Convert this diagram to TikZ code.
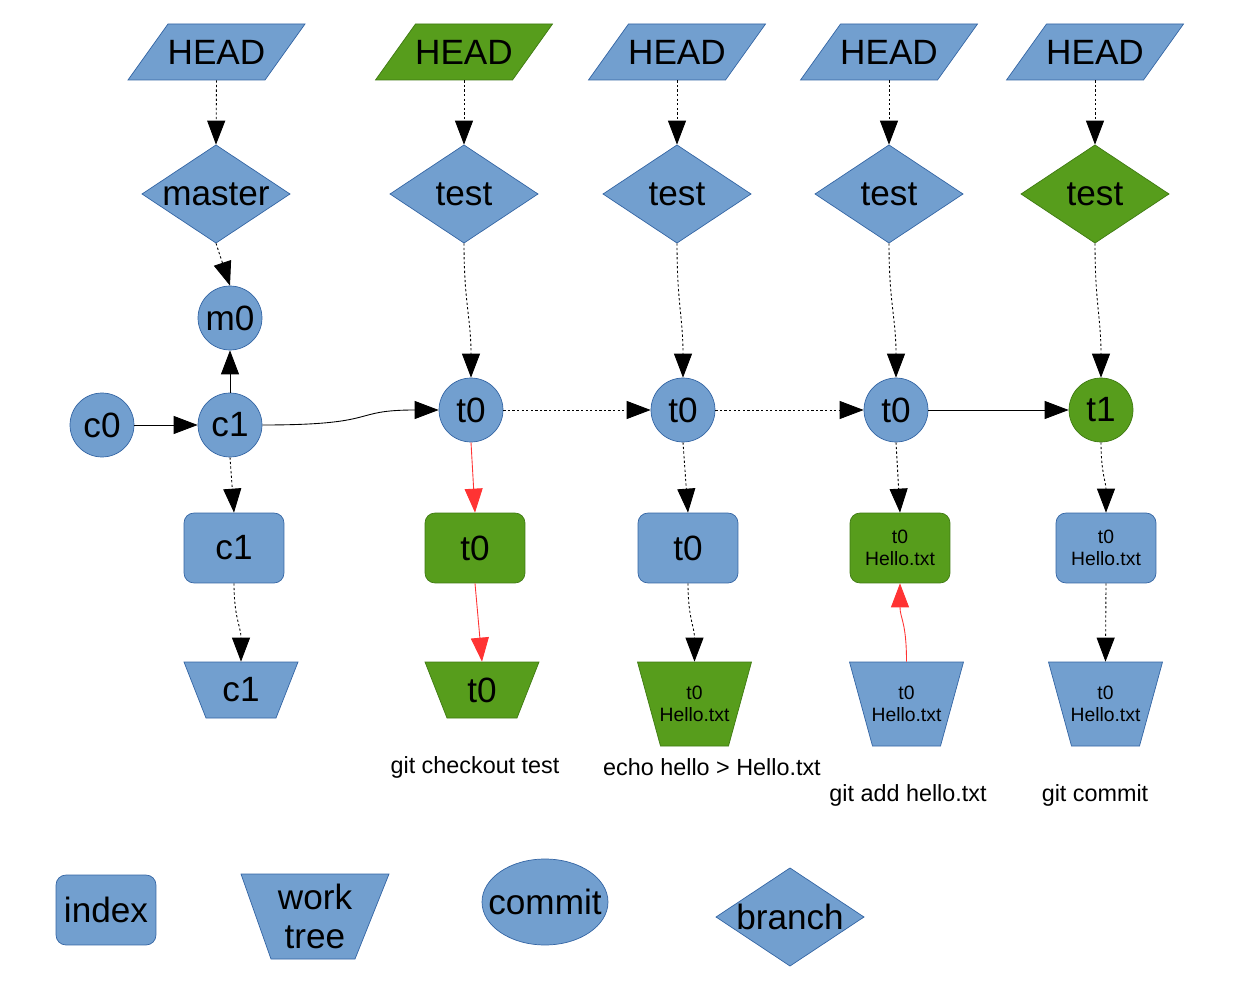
\documentclass[tikz,border=0pt]{standalone}
\usepackage{fontspec}
\setmainfont{Liberation Sans}
\usetikzlibrary{arrows.meta,shapes.geometric}
\definecolor{bfill}{HTML}{729FCF}
\definecolor{bline}{HTML}{3465A4}
\definecolor{gfill}{HTML}{579D1C}
\definecolor{gline}{HTML}{3F7A12}
\definecolor{redline}{HTML}{FF3333}
\tikzset{
  big/.style={font=\fontsize{20}{22}\selectfont},
  small/.style={font=\fontsize{11}{12.5}\selectfont, align=center},
  lbl/.style={font=\fontsize{13.3}{15}\selectfont},
  frame/.style={rectangle, inner sep=0pt, align=center},
  commitnode/.style={circle, minimum size=1.28cm, inner sep=0pt, draw=#1line, fill=#1fill, line width=0.4pt, big},
  indexnode/.style={rectangle, rounded corners=0.2cm, minimum width=2cm, minimum height=1.4cm, inner sep=0pt, draw=#1line, fill=#1fill, line width=0.4pt, align=center},
  shapefill/.style={fill=#1fill, draw=#1line, line width=0.4pt},
  tip/.style={-{Triangle[length=0.48cm,width=0.36cm]}, line width=0.5pt},
  solidarrow/.style={tip, black},
  dotarrow/.style={tip, black, dash pattern=on 1.3pt off 1.3pt},
  redarrow/.style={tip, redline},
}
\newcommand\headshape[3]{\filldraw[shapefill=#3, shift={(#1,#2)}] (-88.5,28) -- (-48.5,-28) -- (88.5,-28) -- (48.5,28) -- cycle;}
\newcommand\diamondshape[3]{\filldraw[shapefill=#3, shift={(#1,#2)}] (-74,0) -- (0,-49) -- (74,0) -- (0,49) -- cycle;}
\newcommand\treeshort[3]{\filldraw[shapefill=#3, shift={(#1,#2)}] (-57,-28) -- (57,-28) -- (35,28) -- (-35,28) -- cycle;}
\newcommand\treetall[3]{\filldraw[shapefill=#3, shift={(#1,#2)}] (-57,-42) -- (57,-42) -- (34,42) -- (-34,42) -- cycle;}
\begin{document}
\begin{tikzpicture}[x=0.02cm, y=-0.02cm]
\useasboundingbox (0,0) rectangle (1252,993);
% ---- column 1
\headshape{216.5}{52}{b}
\node[frame, big, minimum width=3.54cm, minimum height=1.12cm] (h1) at (216.5,52) {HEAD};
\diamondshape{216}{194}{b}
\node[frame, big, minimum width=2.96cm, minimum height=1.96cm] (d1) at (216,194) {master};
\node[commitnode=b] (m0) at (230,318) {m0};
\node[commitnode=b] (c0) at (102,425) {c0};
\node[commitnode=b] (c1) at (230,425) {c1};
\node[indexnode=b, big] (i1) at (234,548) {c1};
\treeshort{241}{690}{b}
\node[frame, big, minimum width=2.28cm, minimum height=1.12cm] (w1) at (241,690) {c1};
% ---- column 2
\headshape{464}{52}{g}
\node[frame, big, minimum width=3.54cm, minimum height=1.12cm] (h2) at (464,52) {HEAD};
\diamondshape{464}{194}{b}
\node[frame, big, minimum width=2.96cm, minimum height=1.96cm] (d2) at (464,194) {test};
\node[commitnode=b] (k2) at (471,410) {t0};
\node[indexnode=g, big] (i2) at (475,548) {t0};
\treeshort{482}{690}{g}
\node[frame, big, minimum width=2.28cm, minimum height=1.12cm] (w2) at (482,690) {t0};
\node[lbl] (l2) at (475,767) {git checkout test};
% ---- column 3
\headshape{677}{52}{b}
\node[frame, big, minimum width=3.54cm, minimum height=1.12cm] (h3) at (677,52) {HEAD};
\diamondshape{677}{194}{b}
\node[frame, big, minimum width=2.96cm, minimum height=1.96cm] (d3) at (677,194) {test};
\node[commitnode=b] (k3) at (683,410) {t0};
\node[indexnode=b, big] (i3) at (688,548) {t0};
\treetall{694.5}{704}{g}
\node[frame, small, minimum width=2.28cm, minimum height=1.68cm] (w3) at (694.5,704) {t0\\Hello.txt};
\node[lbl] (l3) at (712,767) {echo hello > Hello.txt};
% ---- column 4
\headshape{889}{52}{b}
\node[frame, big, minimum width=3.54cm, minimum height=1.12cm] (h4) at (889,52) {HEAD};
\diamondshape{889}{194}{b}
\node[frame, big, minimum width=2.96cm, minimum height=1.96cm] (d4) at (889,194) {test};
\node[commitnode=b] (k4) at (896,410) {t0};
\node[indexnode=g, small] (i4) at (900,548) {t0\\Hello.txt};
\treetall{906.5}{704}{b}
\node[frame, small, minimum width=2.28cm, minimum height=1.68cm] (w4) at (906.5,704) {t0\\Hello.txt};
\node[lbl] (l4) at (908,795) {git add hello.txt};
% ---- column 5
\headshape{1095}{52}{b}
\node[frame, big, minimum width=3.54cm, minimum height=1.12cm] (h5) at (1095,52) {HEAD};
\diamondshape{1095}{194}{g}
\node[frame, big, minimum width=2.96cm, minimum height=1.96cm] (d5) at (1095,194) {test};
\node[commitnode=g] (k5) at (1101,410) {t1};
\node[indexnode=b, small] (i5) at (1106,548) {t0\\Hello.txt};
\treetall{1105.5}{704}{b}
\node[frame, small, minimum width=2.28cm, minimum height=1.68cm] (w5) at (1105.5,704) {t0\\Hello.txt};
\node[lbl] (l5) at (1095,795) {git commit};
% ---- legend
\node[indexnode=b, big] (leg1) at (106,910) {index};
\filldraw[shapefill=b, shift={(315,916.5)}] (-74,-42.5) -- (74,-42.5) -- (40,42.5) -- (-44,42.5) -- cycle;
\node[frame, big, minimum width=2.96cm, minimum height=1.7cm] (leg2) at (315,916.5) {work\\tree};
\filldraw[shapefill=b] (545,902) ellipse [x radius=1.26cm, y radius=0.86cm];
\node[frame, big, minimum width=2.52cm, minimum height=1.72cm] (leg3) at (545,902) {commit};
\diamondshape{790}{917}{b}
\node[frame, big, minimum width=2.96cm, minimum height=1.96cm] (leg4) at (790,917) {branch};
% ---- connectors
\draw[dotarrow] (h1.south) -- (d1.north);
\draw[dotarrow] (h2.south) -- (d2.north);
\draw[dotarrow] (h3.south) -- (d3.north);
\draw[dotarrow] (h4.south) -- (d4.north);
\draw[dotarrow] (h5.south) -- (d5.north);
\draw[dotarrow] (d1.south) -- (m0.north);
\draw[solidarrow] (c1.north) -- (m0.south);
\draw[solidarrow] (c0.east) -- (c1.west);
\draw[solidarrow] (c1.east) .. controls +(120,0) and +(-90,0) .. (k2.west);
\draw[dotarrow] (d2.south) .. controls +(0,60) and +(0,-60) .. (k2.north);
\draw[dotarrow] (d3.south) .. controls +(0,60) and +(0,-60) .. (k3.north);
\draw[dotarrow] (d4.south) .. controls +(0,60) and +(0,-60) .. (k4.north);
\draw[dotarrow] (d5.south) .. controls +(0,60) and +(0,-60) .. (k5.north);
\draw[dotarrow] (k2.east) -- (k3.west);
\draw[dotarrow] (k3.east) -- (k4.west);
\draw[solidarrow] (k4.east) -- (k5.west);
\draw[dotarrow] (c1.south) -- (i1.north);
\draw[dotarrow] (i1.south) .. controls +(0,35) and +(0,-35) .. (w1.north);
\draw[redarrow] (k2.south) -- (i2.north);
\draw[redarrow] (i2.south) -- (w2.north);
\draw[dotarrow] (k3.south) -- (i3.north);
\draw[dotarrow] (i3.south) .. controls +(0,35) and +(0,-35) .. (w3.north);
\draw[dotarrow] (k4.south) -- (i4.north);
\draw[redarrow] (w4.north) .. controls +(0,-40) and +(0,35) .. (i4.south);
\draw[dotarrow] (k5.south) .. controls +(0,30) and +(0,-30) .. (i5.north);
\draw[dotarrow] (i5.south) -- (w5.north);
\end{tikzpicture}
\end{document}
